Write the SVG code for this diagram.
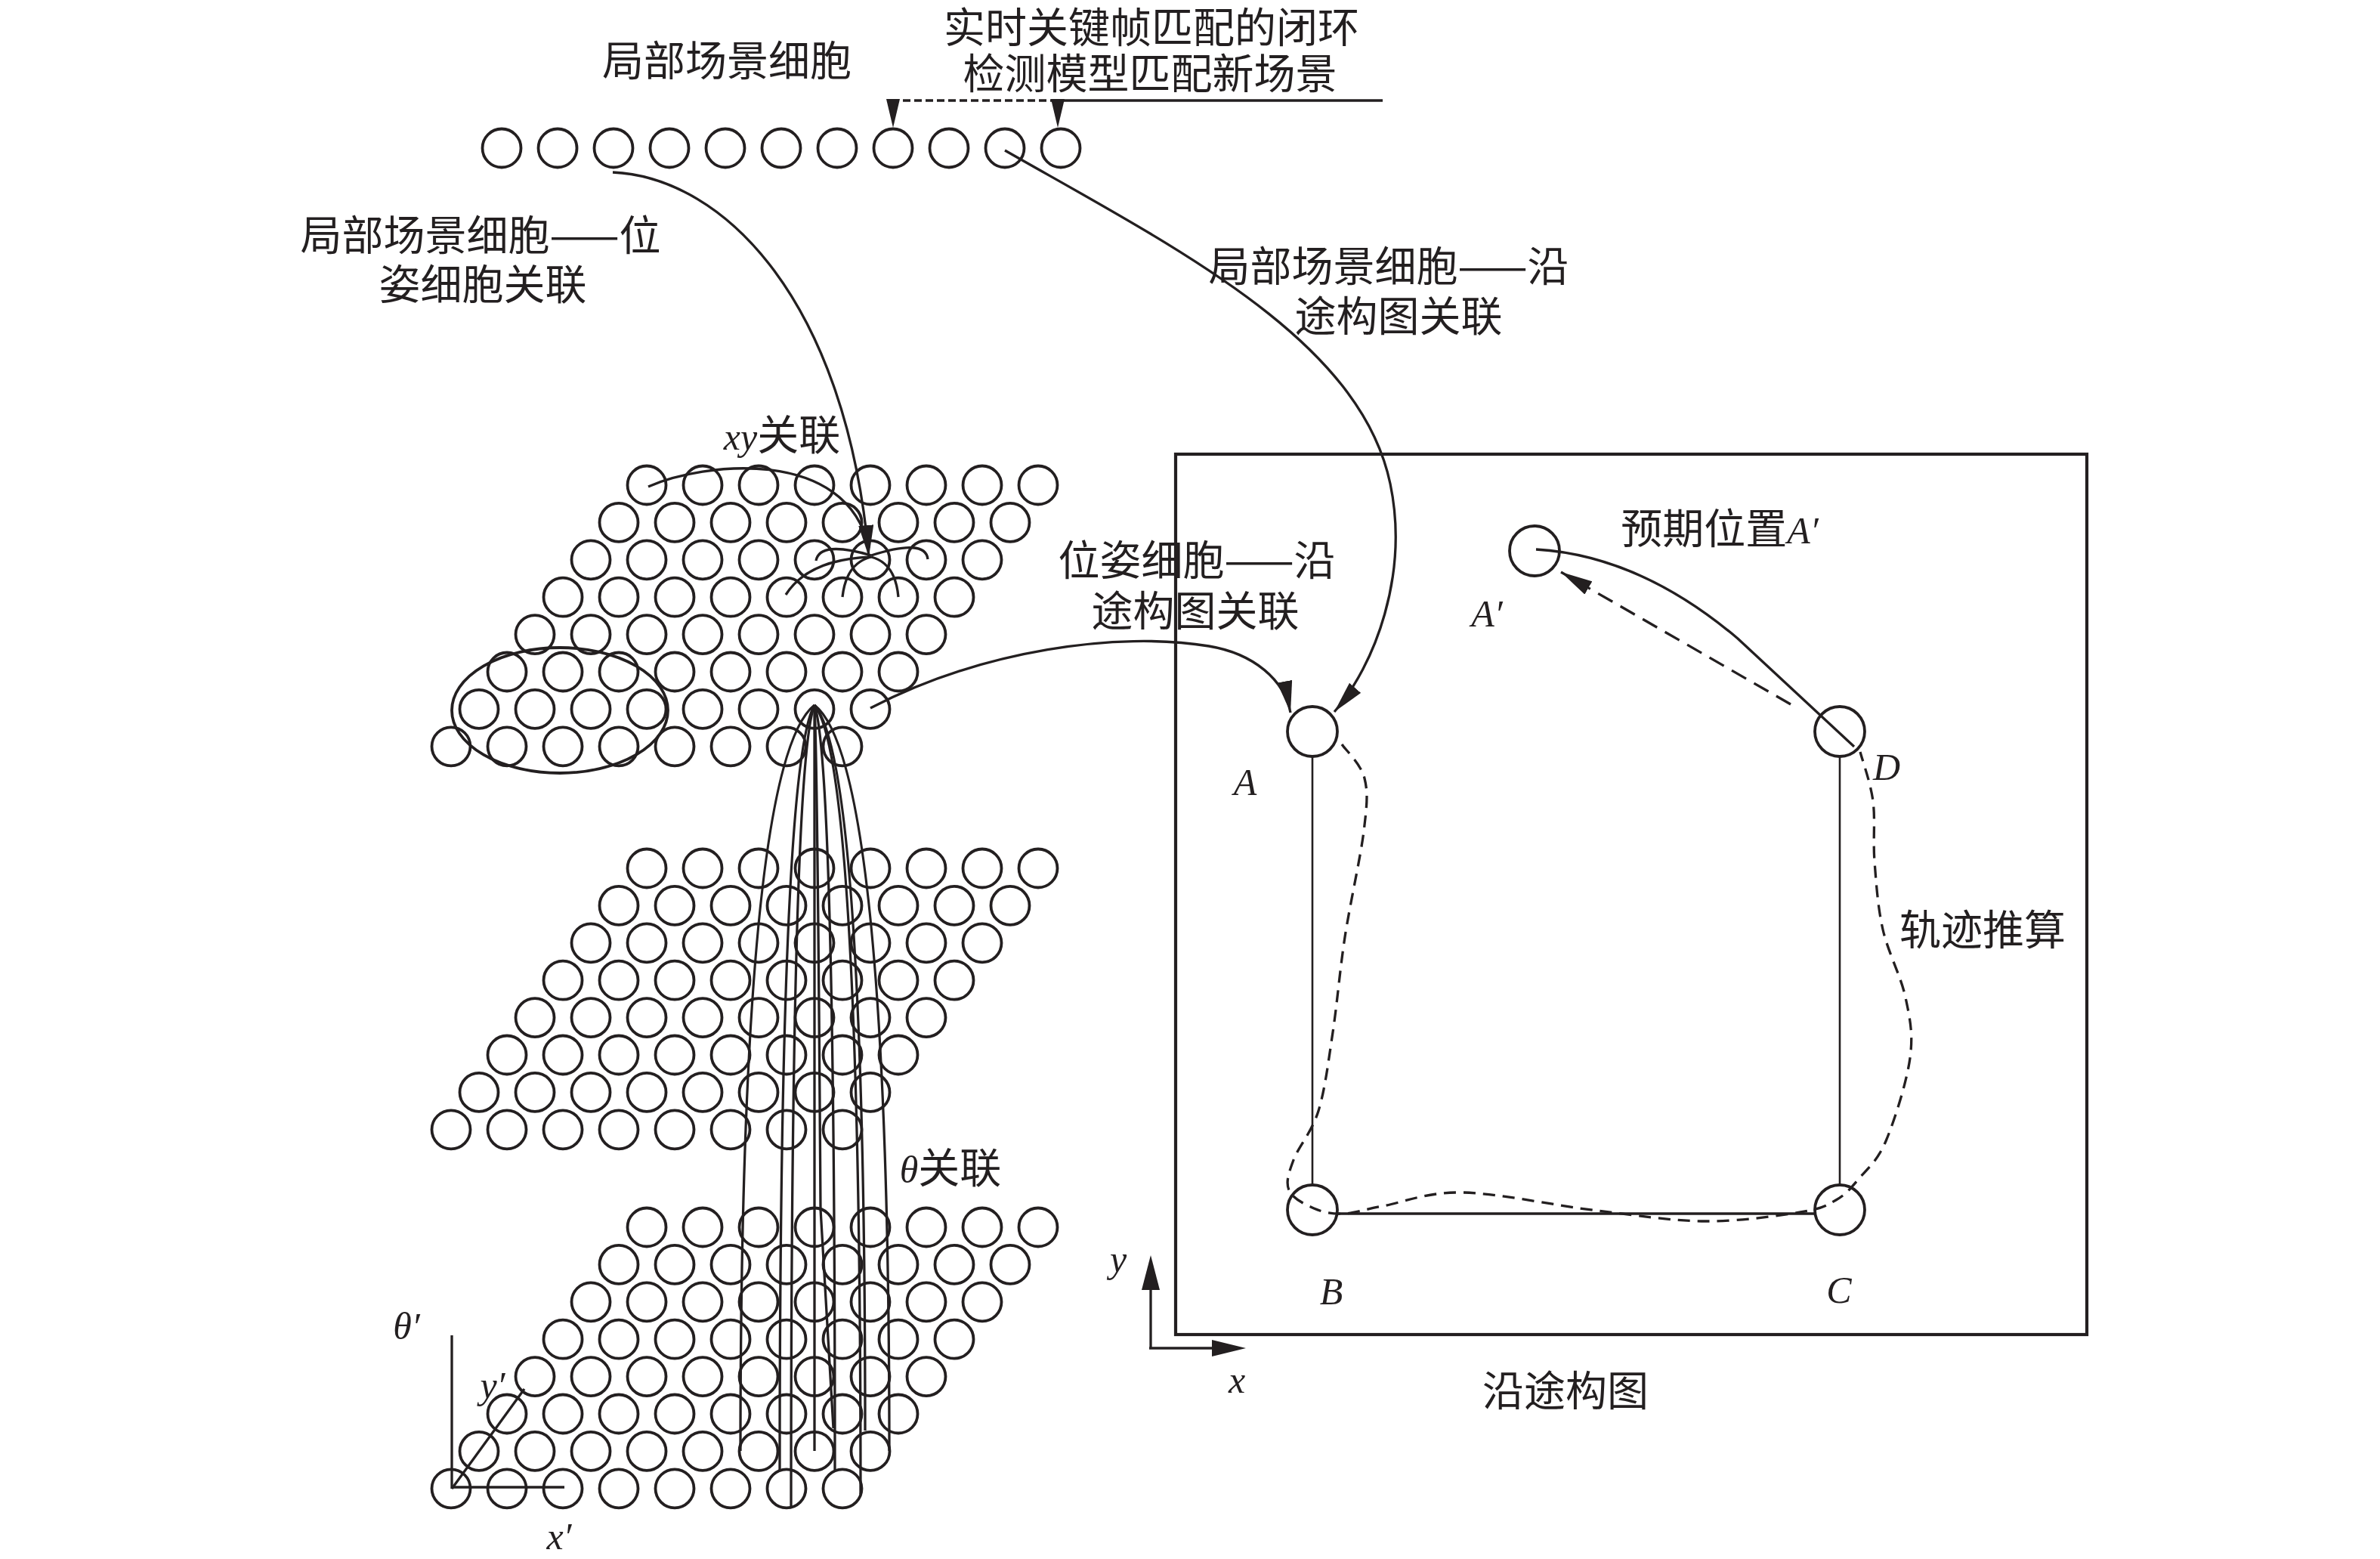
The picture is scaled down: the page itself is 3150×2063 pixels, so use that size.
<svg xmlns="http://www.w3.org/2000/svg" xmlns:xlink="http://www.w3.org/1999/xlink" width="3150" height="2063" viewBox="0 0 3150 2063">
<style>
.c{fill:none;stroke:#231f20;stroke-width:3.8}
.ln{fill:none;stroke:#231f20;stroke-width:3.3}
.thin{fill:none;stroke:#231f20;stroke-width:2.6}
.dash{stroke-dasharray:16 10}
.fill{fill:#231f20;stroke:none}
.cn{font-family:"Noto Sans CJK SC",sans-serif;font-size:55px;fill:#231f20;text-anchor:middle}
.it{font-family:"Liberation Serif",serif;font-style:italic;font-size:50px;fill:#231f20}
</style>
<defs>
<marker id="ah" markerUnits="userSpaceOnUse" markerWidth="44" markerHeight="20" refX="42" refY="10" orient="auto">
<path d="M0,0 L42,10 L0,20 z" fill="#231f20"/>
</marker>
<g id="grid">
<circle class="c" cx="856" cy="0" r="25.5"/><circle class="c" cx="930" cy="0" r="25.5"/><circle class="c" cx="1004" cy="0" r="25.5"/><circle class="c" cx="1078" cy="0" r="25.5"/><circle class="c" cx="1152" cy="0" r="25.5"/><circle class="c" cx="1226" cy="0" r="25.5"/><circle class="c" cx="1300" cy="0" r="25.5"/><circle class="c" cx="1374" cy="0" r="25.5"/>
<circle class="c" cx="819" cy="49.4" r="25.5"/><circle class="c" cx="893" cy="49.4" r="25.5"/><circle class="c" cx="967" cy="49.4" r="25.5"/><circle class="c" cx="1041" cy="49.4" r="25.5"/><circle class="c" cx="1115" cy="49.4" r="25.5"/><circle class="c" cx="1189" cy="49.4" r="25.5"/><circle class="c" cx="1263" cy="49.4" r="25.5"/><circle class="c" cx="1337" cy="49.4" r="25.5"/>
<circle class="c" cx="782" cy="98.8" r="25.5"/><circle class="c" cx="856" cy="98.8" r="25.5"/><circle class="c" cx="930" cy="98.8" r="25.5"/><circle class="c" cx="1004" cy="98.8" r="25.5"/><circle class="c" cx="1078" cy="98.8" r="25.5"/><circle class="c" cx="1152" cy="98.8" r="25.5"/><circle class="c" cx="1226" cy="98.8" r="25.5"/><circle class="c" cx="1300" cy="98.8" r="25.5"/>
<circle class="c" cx="745" cy="148.2" r="25.5"/><circle class="c" cx="819" cy="148.2" r="25.5"/><circle class="c" cx="893" cy="148.2" r="25.5"/><circle class="c" cx="967" cy="148.2" r="25.5"/><circle class="c" cx="1041" cy="148.2" r="25.5"/><circle class="c" cx="1115" cy="148.2" r="25.5"/><circle class="c" cx="1189" cy="148.2" r="25.5"/><circle class="c" cx="1263" cy="148.2" r="25.5"/>
<circle class="c" cx="708" cy="197.6" r="25.5"/><circle class="c" cx="782" cy="197.6" r="25.5"/><circle class="c" cx="856" cy="197.6" r="25.5"/><circle class="c" cx="930" cy="197.6" r="25.5"/><circle class="c" cx="1004" cy="197.6" r="25.5"/><circle class="c" cx="1078" cy="197.6" r="25.5"/><circle class="c" cx="1152" cy="197.6" r="25.5"/><circle class="c" cx="1226" cy="197.6" r="25.5"/>
<circle class="c" cx="671" cy="247" r="25.5"/><circle class="c" cx="745" cy="247" r="25.5"/><circle class="c" cx="819" cy="247" r="25.5"/><circle class="c" cx="893" cy="247" r="25.5"/><circle class="c" cx="967" cy="247" r="25.5"/><circle class="c" cx="1041" cy="247" r="25.5"/><circle class="c" cx="1115" cy="247" r="25.5"/><circle class="c" cx="1189" cy="247" r="25.5"/>
<circle class="c" cx="634" cy="296.4" r="25.5"/><circle class="c" cx="708" cy="296.4" r="25.5"/><circle class="c" cx="782" cy="296.4" r="25.5"/><circle class="c" cx="856" cy="296.4" r="25.5"/><circle class="c" cx="930" cy="296.4" r="25.5"/><circle class="c" cx="1004" cy="296.4" r="25.5"/><circle class="c" cx="1078" cy="296.4" r="25.5"/><circle class="c" cx="1152" cy="296.4" r="25.5"/>
<circle class="c" cx="597" cy="345.8" r="25.5"/><circle class="c" cx="671" cy="345.8" r="25.5"/><circle class="c" cx="745" cy="345.8" r="25.5"/><circle class="c" cx="819" cy="345.8" r="25.5"/><circle class="c" cx="893" cy="345.8" r="25.5"/><circle class="c" cx="967" cy="345.8" r="25.5"/><circle class="c" cx="1041" cy="345.8" r="25.5"/><circle class="c" cx="1115" cy="345.8" r="25.5"/>
</g>
</defs>
<rect width="3150" height="2063" fill="#ffffff"/>

<g id="local-scene-cells">
<circle class="c" cx="664" cy="196" r="25.5"/><circle class="c" cx="738" cy="196" r="25.5"/><circle class="c" cx="812" cy="196" r="25.5"/><circle class="c" cx="886" cy="196" r="25.5"/><circle class="c" cx="960" cy="196" r="25.5"/><circle class="c" cx="1034" cy="196" r="25.5"/><circle class="c" cx="1108" cy="196" r="25.5"/><circle class="c" cx="1182" cy="196" r="25.5"/><circle class="c" cx="1256" cy="196" r="25.5"/><circle class="c" cx="1330" cy="196" r="25.5"/><circle class="c" cx="1404" cy="196" r="25.5"/>
<text class="cn" x="962" y="100">局部场景细胞</text>
</g>

<g id="pose-layer-1"><use xlink:href="#grid" href="#grid" y="642"/></g>
<g id="pose-layer-2"><use xlink:href="#grid" href="#grid" y="1149"/></g>
<g id="pose-layer-3"><use xlink:href="#grid" href="#grid" y="1624"/></g>
<g id="xy-ellipse"><ellipse class="c" cx="741" cy="940" rx="143" ry="83"/></g>

<g id="map-box">
<rect x="1556" y="601" width="1206" height="1165" fill="none" stroke="#231f20" stroke-width="4.2"/>
<text class="cn" x="2072" y="1860">沿途构图</text>
</g>
<g id="node-A"><circle class="c" cx="1737" cy="968" r="33"/><text class="it" x="1648" y="1052" text-anchor="middle">A</text></g>
<g id="node-B"><circle class="c" cx="1737" cy="1601" r="33"/><text class="it" x="1762" y="1726" text-anchor="middle">B</text></g>
<g id="node-C"><circle class="c" cx="2435" cy="1601" r="33"/><text class="it" x="2434" y="1724" text-anchor="middle">C</text></g>
<g id="node-D"><circle class="c" cx="2435" cy="968" r="33"/><text class="it" x="2497" y="1032" text-anchor="middle">D</text></g>
<g id="node-A-prime"><circle class="c" cx="2031" cy="729" r="33"/><text class="it" x="1968" y="829" text-anchor="middle">A′</text></g>

<g id="labels">
<text class="cn" x="1524" y="56">实时关键帧匹配的闭环</text>
<text class="cn" x="1522" y="117">检测模型匹配新场景</text>
<text class="cn" x="636" y="331">局部场景细胞——位</text>
<text class="cn" x="639" y="396">姿细胞关联</text>
<text class="cn" x="1838" y="372">局部场景细胞——沿</text>
<text class="cn" x="1851" y="438">途构图关联</text>
<text class="cn" x="1584" y="761">位姿细胞——沿</text>
<text class="cn" x="1582" y="828">途构图关联</text>
<text class="cn" x="1035" y="595"><tspan class="it" font-size="52">xy</tspan>关联</text>
<text class="cn" x="1258" y="1565"><tspan class="it" font-size="52">θ</tspan>关联</text>
<text class="cn" x="2276" y="719">预期位置<tspan class="it" font-size="52">A′</tspan></text>
<text class="cn" x="2624" y="1250">轨迹推算</text>
<text class="it" x="1480" y="1683" text-anchor="middle">y</text>
<text class="it" x="1637" y="1843" text-anchor="middle">x</text>
<text class="it" x="538" y="1772" text-anchor="middle">θ′</text>
<text class="it" x="652" y="1850" text-anchor="middle">y′</text>
<text class="it" x="740" y="2050" text-anchor="middle">x′</text>
</g>

<g id="connectors">
<path class="ln" d="M1830,133 L1400,133"/>
<path class="ln" d="M1400,133 L1182,133" stroke-dasharray="10 5"/>
<polygon class="fill" points="1391,131 1409,131 1400,169"/>
<polygon class="fill" points="1173,131 1191,131 1182,169"/>
<path class="ln" d="M811,228 C960,235 1120,400 1150,737" marker-end="url(#ah)"/>
<path class="ln" d="M858,644 C930,612 1120,590 1150,725"/>
<path class="ln" d="M1153,735 Q1085,715 1080,742"/>
<path class="ln" d="M1153,735 Q1225,712 1228,740"/>
<path class="ln" d="M1153,737 Q1070,740 1040,787"/>
<path class="ln" d="M1153,737 Q1120,745 1115,790"/>
<path class="ln" d="M1153,737 Q1185,745 1189,790"/>
<path class="ln" d="M1078,933 Q980,1010 980,1920"/>
<path class="ln" d="M1078,933 Q1032,1010 1032,1945"/>
<path class="ln" d="M1078,933 Q1047,1010 1047,1993"/>
<path class="ln" d="M1078,933 L1078,1920"/>
<path class="ln" d="M1078,933 Q1082,1010 1086,1600 L1103,1890"/>
<path class="ln" d="M1078,933 Q1105,1010 1105,1945"/>
<path class="ln" d="M1078,933 Q1139,1010 1139,1977"/>
<path class="ln" d="M1078,933 Q1145,1010 1145,1893"/>
<path class="ln" d="M1078,933 Q1177,1010 1177,1920"/>
<path class="ln" d="M1152,937 C1300,860 1480,835 1600,855 C1660,865 1700,900 1708,943" marker-end="url(#ah)"/>
<path class="ln" d="M1330,199 C1560,330 1800,450 1840,640 C1865,760 1820,880 1766,942" marker-end="url(#ah)"/>
<path class="thin" d="M1737,1001 L1737,1568"/>
<path class="thin" d="M2435,1001 L2435,1568"/>
<path class="ln" d="M1770,1606 L2403,1606" stroke-width="3.8"/>
<path class="ln dash" d="M1776,985 C1781,992.5 1801.2,1010.8 1806,1030 C1810.8,1049.2 1809.3,1065 1805,1100 C1800.7,1135 1786.8,1195.7 1780,1240 C1773.2,1284.3 1769.8,1327.7 1764,1366 C1758.2,1404.3 1753.7,1441.8 1745,1470 C1736.3,1498.2 1718.5,1517.5 1712,1535 C1705.5,1552.5 1701.5,1564.3 1706,1575 C1710.5,1585.7 1727,1593.8 1739,1599 C1751,1604.2 1762.8,1606.5 1778,1606 C1793.2,1605.5 1803.7,1600.7 1830,1596 C1856.3,1591.3 1888.7,1577 1936,1578 C1983.3,1579 2060.5,1595.7 2114,1602 C2167.5,1608.3 2212.2,1615.7 2257,1616 C2301.8,1616.3 2354.2,1608.7 2383,1604 C2411.8,1599.3 2417.2,1595.3 2430,1588 C2442.8,1580.7 2449,1573 2460,1560 C2471,1547 2484.7,1536.7 2496,1510 C2507.3,1483.3 2523.7,1431.7 2528,1400 C2532.3,1368.3 2528,1348.3 2522,1320 C2516,1291.7 2498.8,1260 2492,1230 C2485.2,1200 2483.2,1168.3 2481,1140 C2478.8,1111.7 2482.2,1084.2 2479,1060 C2475.8,1035.8 2464.8,1005.8 2462,995"/>
<path class="ln" d="M2454,988 L2300,845 Q2170,735 2033,727"/>
<path class="ln" d="M2370,932 L2066,757" stroke-dasharray="22 12" marker-end="url(#ah)"/>
<path class="ln" d="M1523,1784 L1523,1700"/>
<polygon class="fill" points="1511,1707 1535,1707 1523,1661"/>
<path class="ln" d="M1521,1784 L1610,1784"/>
<polygon class="fill" points="1604,1773 1604,1795 1649,1784"/>
<path class="ln" d="M598,1767 L598,1970"/>
<path class="ln" d="M598,1968 L747,1968" stroke-width="4.5"/>
<path class="ln" d="M598,1970 L694,1838" stroke-width="3.5"/>
</g>
</svg>
